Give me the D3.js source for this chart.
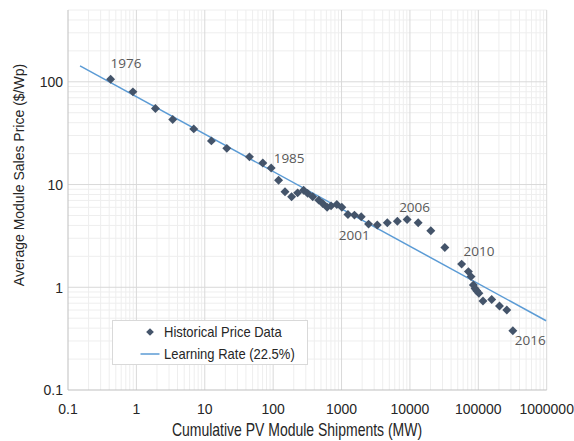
<!DOCTYPE html><html><head><meta charset="UTF-8"><script src="https://d3js.org/d3.v7.min.js"></script><style>
  body { margin: 0; background: #fff; }
  svg { font-family: "Liberation Sans", Arial, sans-serif; }
  .tick-label { font-size: 14px; fill: #262626; }
  .axis-title { font-size: 14px; fill: #262626; }
  .year { font-family: "Open Sans", sans-serif; font-size: 13.5px; fill: #595959; }
  .legend-text { font-size: 13px; fill: #262626; }
</style></head><body><div id="chart"></div><script>
// cumulative shipments (MW) and module price ($/Wp), 1976 .. 2016
const shipments = [0.42, 0.89, 1.9, 3.4, 6.9, 12.5, 21, 45, 70.6, 93.5, 120, 149, 186, 228, 279, 320, 379, 464, 531, 615, 703, 853, 1010, 1240, 1545, 1940, 2485, 3330, 4670, 6550, 9100, 13200, 20200, 32400, 57000, 71600, 78200, 84700, 89500, 94700, 102000, 117000, 157000, 204000, 261000, 320000];
const prices = [106, 79.8, 55, 43, 34.8, 26.6, 22.5, 18.6, 16.2, 14.5, 11.0, 8.5, 7.6, 8.3, 8.8, 8.2, 7.6, 7.05, 6.55, 6.0, 6.2, 6.4, 6.0, 5.1, 5.04, 4.85, 4.12, 4.03, 4.25, 4.4, 4.57, 4.25, 3.55, 2.44, 1.68, 1.42, 1.27, 1.05, 0.975, 0.925, 0.873, 0.735, 0.76, 0.656, 0.60, 0.378];

// learning-rate fit line, end points
const fitX = [0.15, 980000];
const fitY = [143, 0.472];

const yearLabels = ["1976", "1985", "2001", "2006", "2010", "2016"];
const yearIndex = [0, 9, 25, 30, 34, 45];

const xTicks = [0.1, 1, 10, 100, 1000, 10000, 100000, 1000000];
const yTicks = [0.1, 1, 10, 100];

const W = 574, H = 441;
const svg = d3.select('#chart').append('svg').attr('width', W).attr('height', H);

const x = d3.scaleLog().domain([0.1, 1000000]).range([68, 546.7]);
const y = d3.scaleLog().domain([0.1, 500]).range([390, 10]);

// minor grid
const minorX = [];
for (let d = 0.1; d < 1000000; d *= 10) for (let k = 2; k <= 9; k++) minorX.push(d * k);
const minorY = [];
for (let d = 0.1; d < 500; d *= 10) for (let k = 2; k <= 9; k++) if (d * k <= 500) minorY.push(d * k);

const grid = svg.append('g');
grid.selectAll('.mx').data(minorX).enter().append('line')
  .attr('x1', d => x(d)).attr('x2', d => x(d)).attr('y1', y(500)).attr('y2', y(0.1))
  .attr('stroke', '#eeeeee').attr('stroke-width', 1);
grid.selectAll('.my').data(minorY).enter().append('line')
  .attr('y1', d => y(d)).attr('y2', d => y(d)).attr('x1', x(0.1)).attr('x2', x(1000000))
  .attr('stroke', '#eeeeee').attr('stroke-width', 1);
grid.selectAll('.Mx').data(xTicks.slice(1)).enter().append('line')
  .attr('x1', d => x(d)).attr('x2', d => x(d)).attr('y1', y(500)).attr('y2', y(0.1))
  .attr('stroke', '#d9d9d9').attr('stroke-width', 1);
grid.selectAll('.My').data(yTicks.slice(1)).enter().append('line')
  .attr('y1', d => y(d)).attr('y2', d => y(d)).attr('x1', x(0.1)).attr('x2', x(1000000))
  .attr('stroke', '#d9d9d9').attr('stroke-width', 1);

// axis lines
svg.append('line').attr('x1', x(0.1)).attr('x2', x(0.1)).attr('y1', y(500)).attr('y2', y(0.1))
  .attr('stroke', '#bfbfbf');
svg.append('line').attr('x1', x(0.1)).attr('x2', x(1000000)).attr('y1', y(0.1)).attr('y2', y(0.1))
  .attr('stroke', '#bfbfbf');

// tick labels (glyphs slightly tall in the original)
svg.selectAll('.xt').data(xTicks).enter().append('text')
  .attr('class', 'tick-label')
  .attr('transform', d => `translate(${x(d)},414) scale(1,1.07)`)
  .attr('text-anchor', 'middle').text(d => d >= 1 ? d3.format('d')(d) : '0.1');
svg.selectAll('.yt').data(yTicks).enter().append('text')
  .attr('class', 'tick-label')
  .attr('transform', d => `translate(63,${y(d)}) scale(1,1.07)`).attr('dy', '0.35em')
  .attr('text-anchor', 'end').text(d => d >= 1 ? d3.format('d')(d) : '0.1');

// axis titles
svg.append('text').attr('class', 'axis-title')
  .attr('transform', 'translate(297,436) scale(1,1.25)')
  .attr('text-anchor', 'middle').text('Cumulative PV Module Shipments (MW)');
svg.append('text').attr('class', 'axis-title')
  .attr('transform', 'translate(24,175) rotate(-90)')
  .attr('text-anchor', 'middle').text('Average Module Sales Price ($/Wp)');

// learning line
const fit = fitX.map((v, i) => [v, fitY[i]]);
svg.append('path').datum(fit)
  .attr('d', d3.line().x(d => x(d[0])).y(d => y(d[1])))
  .attr('fill', 'none').attr('stroke', '#5b9bd5').attr('stroke-width', 1.5);

// data points
const diamond = d3.symbol().type(d3.symbolSquare).size(40);
svg.selectAll('.dot').data(shipments).enter().append('path')
  .attr('class', 'dot')
  .attr('d', diamond)
  .attr('transform', (d, i) => `translate(${x(d)},${y(prices[i])}) rotate(45)`)
  .attr('fill', '#44546a');

// year annotations
const yearOffsets = [[0, -16, 'start'], [2.5, -9.5, 'start'], [-7, 18, 'middle'], [-8, -12.6, 'start'], [2, -12.6, 'start'], [2, 9.3, 'start']];
svg.selectAll('.year').data(yearLabels).enter().append('text')
  .attr('class', 'year')
  .attr('x', (d, i) => x(shipments[yearIndex[i]]) + yearOffsets[i][0])
  .attr('y', (d, i) => y(prices[yearIndex[i]]) + yearOffsets[i][1])
  .attr('dy', '0.35em')
  .attr('text-anchor', (d, i) => yearOffsets[i][2])
  .text(d => d);

// legend
const lg = svg.append('g');
lg.append('rect').attr('x', 112.5).attr('y', 320.5).attr('width', 195).attr('height', 44)
  .attr('fill', '#fff').attr('stroke', '#d9d9d9');
lg.append('path').attr('d', d3.symbol().type(d3.symbolSquare).size(30))
  .attr('transform', 'translate(150,332) rotate(45)').attr('fill', '#44546a');
lg.append('text').attr('class', 'legend-text')
  .attr('transform', 'translate(164,332) scale(1,1.15)').attr('dy', '0.35em')
  .text('Historical Price Data');
lg.append('line').attr('x1', 140.5).attr('x2', 159.5).attr('y1', 354).attr('y2', 354)
  .attr('stroke', '#5b9bd5').attr('stroke-width', 1.5);
lg.append('text').attr('class', 'legend-text')
  .attr('transform', 'translate(164,354) scale(1,1.15)').attr('dy', '0.35em')
  .text('Learning Rate (22.5%)');
</script></body></html>
